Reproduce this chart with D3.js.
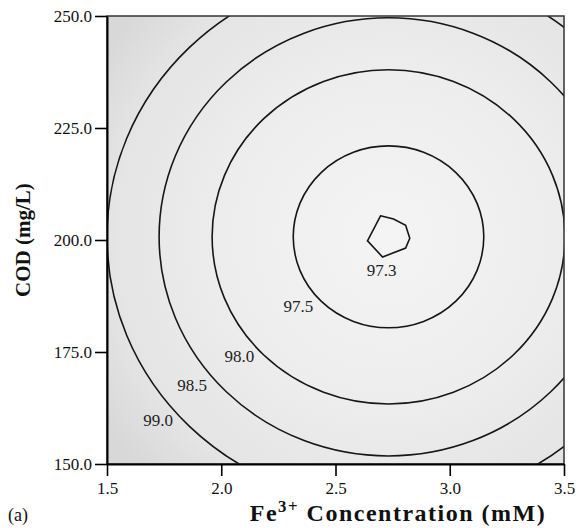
<!DOCTYPE html>
<html>
  <head>
    <meta charset="utf-8">
    <title>COD contour</title>
    <style>
      body { margin: 0; background: white; }
      svg { display: block; }
      .axis path, .axis line { stroke: #000; fill: none; }
      .axis path { stroke-width: 2; }
      .axis line { stroke-width: 1.6; }
      .contour { fill: none; stroke: #161616; stroke-width: 1.6; }
    </style>
  </head>
  <body>
  <svg id="chart"></svg>
  <script src="https://d3js.org/d3.v7.min.js"></script>
  <script>
    // ticks
    var xTicks = [1.5, 2.0, 2.5, 3.0, 3.5];
    var yTicks = [150, 175, 200, 225, 250];

    // contour rings (centre + half-widths in data units)
    var centre = [2.732, 200.7];
    var levels = [97.5, 98.0, 98.5, 99.0];
    var ringRx = [0.417, 0.772, 1.004, 1.232];
    var ringRy = [20.3, 37.3, 48.9, 59.8];

    // innermost 97.3 contour (small polygon)
    var innerX = [2.697, 2.754, 2.807, 2.825, 2.807, 2.706, 2.640];
    var innerY = [205.4, 204.7, 203.3, 200.4, 198.2, 196.2, 199.8];

    // contour labels
    var labelText = ["97.3", "97.5", "98.0", "98.5", "99.0"];
    var labelX = [2.702, 2.338, 2.079, 1.873, 1.724];
    var labelY = [193.3, 185.3, 174.1, 167.6, 159.8];

    var SERIF = "'Liberation Serif', 'Times New Roman', Times, serif";
    var W = 579, H = 528;
    var margin = {top: 16, right: 15, bottom: 64, left: 107};

    var svg = d3.select("#chart").attr("width", W).attr("height", H);

    var x = d3.scaleLinear().domain([1.5, 3.5]).range([margin.left, W - margin.right]);
    var y = d3.scaleLinear().domain([150, 250]).range([H - margin.bottom, margin.top]);

    var defs = svg.append("defs");
    defs.append("clipPath").attr("id", "plotclip")
      .append("rect")
      .attr("x", x(1.5)).attr("y", y(250))
      .attr("width", x(3.5) - x(1.5)).attr("height", y(150) - y(250));

    var grad = defs.append("radialGradient")
      .attr("id", "bg")
      .attr("gradientUnits", "userSpaceOnUse")
      .attr("cx", x(centre[0])).attr("cy", y(centre[1]))
      .attr("r", 340);
    grad.append("stop").attr("offset", 0).attr("stop-color", "#f4f4f4");
    grad.append("stop").attr("offset", 0.45).attr("stop-color", "#eeeeee");
    grad.append("stop").attr("offset", 0.8).attr("stop-color", "#e5e5e5");
    grad.append("stop").attr("offset", 1).attr("stop-color", "#d8d8d8");

    // background
    svg.append("rect")
      .attr("x", x(1.5)).attr("y", y(250))
      .attr("width", x(3.5) - x(1.5)).attr("height", y(150) - y(250))
      .attr("fill", "url(#bg)");

    var plot = svg.append("g").attr("clip-path", "url(#plotclip)");

    plot.selectAll("ellipse.contour")
      .data(levels)
      .enter().append("ellipse")
      .attr("class", "contour")
      .attr("cx", x(centre[0]))
      .attr("cy", y(centre[1]))
      .attr("rx", function(d, i) { return x(centre[0] + ringRx[i]) - x(centre[0]); })
      .attr("ry", function(d, i) { return y(centre[1]) - y(centre[1] + ringRy[i]); });

    var inner = innerX.map(function(v, i) { return [x(v), y(innerY[i])]; });
    plot.append("path")
      .attr("class", "contour")
      .attr("d", d3.line()(inner) + "Z");

    svg.selectAll("text.clabel")
      .data(labelText)
      .enter().append("text")
      .attr("class", "clabel")
      .attr("x", function(d, i) { return x(labelX[i]); })
      .attr("y", function(d, i) { return y(labelY[i]); })
      .attr("dy", "0.35em")
      .attr("text-anchor", "middle")
      .style("font-family", SERIF)
      .style("font-size", "17px")
      .style("fill", "#222")
      .text(function(d) { return d; });

    // frame
    svg.append("rect")
      .attr("x", x(1.5)).attr("y", y(250))
      .attr("width", x(3.5) - x(1.5)).attr("height", y(150) - y(250))
      .attr("fill", "none").attr("stroke", "#333").attr("stroke-width", 1.5);

    var fmt = d3.format(".1f");

    var gx = svg.append("g")
      .attr("class", "axis")
      .attr("transform", "translate(0," + y(150) + ")")
      .call(d3.axisBottom(x).tickValues(xTicks).tickFormat(fmt).tickSizeInner(12).tickSizeOuter(0).tickPadding(6));

    var gy = svg.append("g")
      .attr("class", "axis")
      .attr("transform", "translate(" + x(1.5) + ",0)")
      .call(d3.axisLeft(y).tickValues(yTicks).tickFormat(fmt).tickSizeInner(12).tickSizeOuter(0).tickPadding(3));

    [gx, gy].forEach(function(g) {
      g.attr("font-family", SERIF).attr("font-size", 17);
      g.selectAll("text").style("font-family", SERIF).style("font-size", "17px").style("fill", "#111");
    });

    // axis titles
    svg.append("text")
      .attr("transform", "translate(30," + y(200) + ") rotate(-90)")
      .attr("text-anchor", "middle")
      .style("font-family", SERIF).style("font-weight", "bold").style("font-size", "21px")
      .style("fill", "#111")
      .text("COD (mg/L)");

    var xt = svg.append("text")
      .attr("x", 398).attr("y", 521)
      .attr("text-anchor", "middle")
      .style("font-family", SERIF).style("font-weight", "bold").style("font-size", "24px")
      .style("letter-spacing", "1.5px")
      .style("fill", "#111");
    xt.append("tspan").text("Fe");
    xt.append("tspan").attr("baseline-shift", "super").attr("font-size", "70%").text("3+");
    xt.append("tspan").text(" Concentration (mM)");

    svg.append("text")
      .attr("x", 8).attr("y", 521)
      .style("font-family", SERIF).style("font-size", "18px")
      .style("fill", "#111")
      .text("(a)");
  </script>
  </body>
</html>
